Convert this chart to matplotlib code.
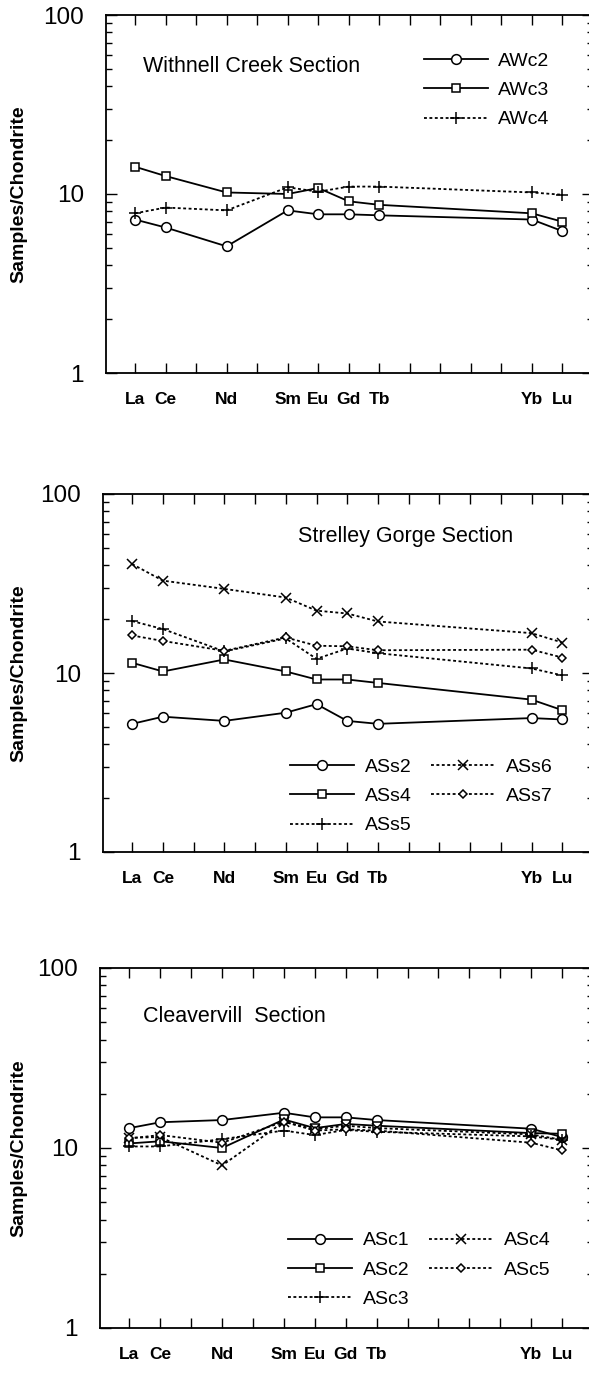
import numpy as np
import matplotlib.pyplot as plt
from matplotlib.ticker import NullFormatter, NullLocator, LogLocator

plt.rcParams['font.family'] = ['Liberation Sans', 'DejaVu Sans']

# REE normalised to chondrite
ree_labels = ['La', 'Ce', 'Nd', 'Sm', 'Eu', 'Gd', 'Tb', 'Yb', 'Lu']
ree_z = [57, 58, 60, 62, 63, 64, 65, 70, 71]

# Withnell Creek
awc2 = [7.2, 6.5, 5.1, 8.1, 7.7, 7.7, 7.6, 7.2, 6.2]
awc3 = [14.2, 12.6, 10.2, 10.0, 10.8, 9.1, 8.7, 7.8, 7.0]
awc4 = [7.8, 8.4, 8.1, 10.9, 10.3, 11.0, 11.0, 10.2, 9.9]

# Strelley Gorge
ass2 = [5.2, 5.7, 5.4, 6.0, 6.7, 5.4, 5.2, 5.6, 5.5]
ass4 = [11.4, 10.2, 11.9, 10.2, 9.2, 9.2, 8.8, 7.1, 6.2]
ass5 = [19.5, 17.6, 13.2, 15.6, 12.0, 13.7, 12.9, 10.6, 9.7]
ass6 = [40.6, 32.8, 29.5, 26.4, 22.3, 21.5, 19.4, 16.7, 14.8]
ass7 = [16.2, 15.1, 13.3, 15.8, 14.2, 14.1, 13.4, 13.5, 12.2]

# Cleavervill
asc1 = [12.9, 13.9, 14.3, 15.7, 14.8, 14.8, 14.3, 12.8, 11.5]
asc2 = [10.6, 10.9, 10.0, 14.4, 12.9, 13.6, 13.3, 12.1, 12.0]
asc3 = [10.2, 10.2, 11.2, 12.5, 11.8, 12.6, 12.3, 11.6, 11.1]
asc4 = [11.4, 11.5, 8.0, 14.0, 12.7, 13.3, 12.9, 11.9, 11.1]
asc5 = [11.3, 11.8, 10.7, 14.0, 12.5, 12.7, 12.5, 10.7, 9.7]

W, H = 589, 1378
fig = plt.figure(figsize=(W / 100, H / 100), dpi=100)

solid = '-'
dots = (0, (1.6, 1.4))


def make_axes(left, top, bottom, right=593):
    ax = fig.add_axes([left / W, 1 - bottom / H, (right - left) / W, (bottom - top) / H])
    ax.set_yscale('log')
    ax.set_ylim(1, 100)
    ax.set_xlim(56.05, 72.0)
    ax.set_xticks(range(57, 72))
    ax.set_xticklabels([ree_labels[ree_z.index(z)] if z in ree_z else '' for z in range(57, 72)],
                       fontweight='bold')
    ax.xaxis.set_minor_locator(NullLocator())
    ax.set_yticks([1, 10, 100])
    ax.set_yticklabels(['1', '10', '100'])
    ax.yaxis.set_minor_locator(LogLocator(base=10, subs=np.arange(2, 10)))
    ax.yaxis.set_minor_formatter(NullFormatter())
    ax.tick_params(which='both', direction='in', top=True, right=True, width=1.0)
    ax.tick_params(axis='x', which='major', length=7, pad=14, labelsize=12.5)
    ax.tick_params(axis='y', which='major', length=8, pad=16, labelsize=17.5)
    ax.tick_params(axis='y', which='minor', length=4)
    for s in ax.spines.values():
        s.set_linewidth(1.3)
    ax.text((19 - left) / (right - left), 0.5, 'Samples/Chondrite', rotation=90,
            ha='center', va='center', fontsize=14, fontweight='bold',
            transform=ax.transAxes)
    return ax


def draw(ax, vals, marker, ls, label, ms=7):
    ax.plot(ree_z, vals, color='black', linestyle=ls, lw=1.3, marker=marker,
            ms=ms, mfc='white', mec='black', mew=1.1, label=label)


leg_kw = dict(loc='upper left', frameon=False, fontsize=14, handlelength=3.3,
              handletextpad=0.55, labelspacing=0.6, columnspacing=1.0,
              borderpad=0, borderaxespad=0)

# Panel 1
ax1 = make_axes(106, 15, 373)
draw(ax1, awc2, 'o', solid, 'AWc2')
draw(ax1, awc3, 's', solid, 'AWc3', ms=6)
draw(ax1, awc4, '+', dots, 'AWc4', ms=9)
ax1.text(0.076, 0.855, 'Withnell Creek Section', fontsize=15.5, transform=ax1.transAxes,
         ha='left', va='center')
ax1.legend(bbox_to_anchor=(0.652, 0.896), **leg_kw)

# Panel 2
ax2 = make_axes(103, 494, 852)
draw(ax2, ass2, 'o', solid, 'ASs2')
draw(ax2, ass4, 's', solid, 'ASs4', ms=6)
draw(ax2, ass5, '+', dots, 'ASs5', ms=9)
draw(ax2, ass6, 'x', dots, 'ASs6', ms=7)
draw(ax2, ass7, 'D', dots, 'ASs7', ms=4.5)
ax2.text(0.398, 0.88, 'Strelley Gorge Section', fontsize=15.5, transform=ax2.transAxes,
         ha='left', va='center')
ax2.legend(bbox_to_anchor=(0.381, 0.262), ncol=2, **leg_kw)

# Panel 3
ax3 = make_axes(100, 968, 1328)
draw(ax3, asc1, 'o', solid, 'ASc1')
draw(ax3, asc2, 's', solid, 'ASc2', ms=6)
draw(ax3, asc3, '+', dots, 'ASc3', ms=9)
draw(ax3, asc4, 'x', dots, 'ASc4', ms=7)
draw(ax3, asc5, 'D', dots, 'ASc5', ms=4.5)
ax3.text(0.088, 0.864, 'Cleavervill  Section', fontsize=15.5, transform=ax3.transAxes,
         ha='left', va='center')
ax3.legend(bbox_to_anchor=(0.381, 0.267), ncol=2, **leg_kw)

fig.savefig('out.png', dpi=100)
